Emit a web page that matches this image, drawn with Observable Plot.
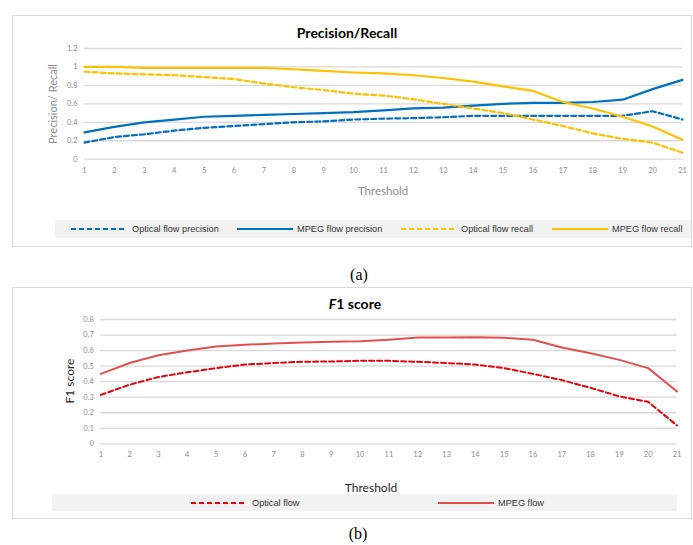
<!DOCTYPE html>
<html>
<head>
<meta charset="utf-8">
<script src="https://cdn.jsdelivr.net/npm/d3@7"></script>
<script src="https://cdn.jsdelivr.net/npm/@observablehq/plot@0.6"></script>
<style>
  html, body { margin: 0; padding: 0; background: #fff; }
  #page { position: relative; width: 693px; height: 545px; background: #fff; overflow: hidden; }
  .abs { position: absolute; }
  .panel { position: absolute; box-sizing: border-box; border: 1.5px solid #d9d9d9; }
  .ctr { position: absolute; transform: translate(-50%, -50%); white-space: nowrap; }
  .title { font-family: Lato, "Open Sans", sans-serif; font-weight: bold; font-size: 14px; color: #000; }
  .axtitle { font-family: Lato, "Open Sans", sans-serif; font-size: 11.5px; }
  .band { position: absolute; background: #f2f2f2; }
  .legtext { position: absolute; font-family: "Liberation Sans", Arial, sans-serif; font-size: 9.2px; color: #333; white-space: nowrap; transform: translateY(-50%); }
  .cap { font-family: "Liberation Serif", "DejaVu Serif", serif; font-size: 16px; color: #000; }
</style>
</head>
<body>
<div id="page"></div>
<script>
// ---------- data ----------
const thresholds = [1,2,3,4,5,6,7,8,9,10,11,12,13,14,15,16,17,18,19,20,21];

const opticalPrecision = [0.18,0.24,0.27,0.31,0.34,0.36,0.38,0.40,0.41,0.43,0.44,0.445,0.455,0.47,0.47,0.47,0.47,0.47,0.47,0.52,0.43];
const mpegPrecision    = [0.29,0.35,0.40,0.43,0.46,0.47,0.48,0.49,0.50,0.51,0.53,0.55,0.56,0.58,0.60,0.61,0.61,0.62,0.645,0.76,0.86];
const opticalRecall    = [0.95,0.93,0.92,0.91,0.89,0.87,0.82,0.78,0.75,0.71,0.69,0.65,0.60,0.55,0.50,0.43,0.36,0.28,0.22,0.18,0.07];
const mpegRecall       = [1.00,1.00,0.99,0.99,0.99,0.99,0.99,0.975,0.957,0.94,0.93,0.91,0.88,0.84,0.79,0.74,0.62,0.55,0.46,0.355,0.21];

const f1Optical = [0.315,0.38,0.43,0.46,0.487,0.51,0.52,0.528,0.53,0.534,0.534,0.528,0.52,0.51,0.487,0.45,0.41,0.36,0.305,0.27,0.118];
const f1Mpeg    = [0.45,0.52,0.57,0.60,0.626,0.637,0.645,0.652,0.656,0.66,0.67,0.684,0.684,0.686,0.682,0.67,0.62,0.583,0.54,0.487,0.337];

const prTicks  = [0, 0.2, 0.4, 0.6, 0.8, 1, 1.2];
const prLabels = ["0", "0.2", "0.4", "0.6", "0.8", "1", "1.2"];
const f1Ticks  = [0, 0.1, 0.2, 0.3, 0.4, 0.5, 0.6, 0.7, 0.8];
const f1Labels = ["0", "0.1", "0.2", "0.3", "0.4", "0.5", "0.6", "0.7", "0.8"];

const prSeries = [
  {name: "Optical flow precision", values: opticalPrecision, color: "#0070C0", dash: "5,3"},
  {name: "MPEG flow precision",    values: mpegPrecision,    color: "#0070C0", dash: null},
  {name: "Optical flow recall",    values: opticalRecall,    color: "#FFC000", dash: "5,3"},
  {name: "MPEG flow recall",       values: mpegRecall,       color: "#FFC000", dash: null}
];
const f1Series = [
  {name: "Optical flow", values: f1Optical, color: "#E8000B", dash: "5,3"},
  {name: "MPEG flow",    values: f1Mpeg,    color: "#E05050", dash: null}
];

// ---------- helpers ----------
const page = document.getElementById("page");
function add(html) { page.insertAdjacentHTML("beforeend", html); }

function chart({series, yTicks, yLabels, yDomain, height, marginTop, marginBottom, marginLeft, marginRight, strokeWidth}) {
  const fmt = new Map(yTicks.map((t, i) => [t, yLabels[i]]));
  return Plot.plot({
    width: 693,
    height,
    marginTop, marginBottom, marginLeft, marginRight,
    style: {fontFamily: "Lato, 'Open Sans', sans-serif", fontSize: "7.5px", color: "#8c8c8c", background: "transparent"},
    x: {domain: [1, 21], axis: null},
    y: {domain: yDomain, axis: null},
    marks: [
      Plot.gridY(yTicks, {stroke: "#d9d9d9", strokeOpacity: 1, strokeWidth: 1.3}),
      Plot.axisX(thresholds, {tickSize: 0, tickPadding: 8, label: null, tickFormat: d => String(d)}),
      Plot.axisY(yTicks, {tickSize: 0, tickPadding: 7, label: null, tickFormat: d => fmt.get(d)}),
      ...series.map(s => Plot.line(thresholds, {
        x: d => d,
        y: (d, i) => s.values[i],
        stroke: s.color,
        strokeWidth,
        strokeDasharray: s.dash || undefined,
        strokeLinejoin: "round"
      }))
    ]
  });
}

function legendItem(s, x, textX, y) {
  const dash = s.dash ? `stroke-dasharray="${s.dash}"` : "";
  add(`<svg class="abs" style="left:${x}px;top:${y - 3}px" width="56" height="6"><line x1="0" y1="3" x2="56" y2="3" stroke="${s.color}" stroke-width="2" ${dash}/></svg>`);
  add(`<div class="legtext" style="left:${textX}px;top:${y}px">${s.name}</div>`);
}

// ---------- panel (a) ----------
add(`<div class="panel" style="left:12px;top:15px;width:680px;height:232px"></div>`);
add(`<div class="ctr title" style="left:347px;top:32px">Precision/Recall</div>`);

const chartA = chart({
  series: prSeries, yTicks: prTicks, yLabels: prLabels, yDomain: [0, 1.2],
  height: 140, marginTop: 8, marginBottom: 21.3, marginLeft: 84, marginRight: 11, strokeWidth: 2.2
});
chartA.style.position = "absolute"; chartA.style.left = "0px"; chartA.style.top = "40px";
page.appendChild(chartA);

add(`<div class="ctr axtitle" style="left:52px;top:104px;color:#8c8c8c;font-size:11px;transform:translate(-50%,-50%) rotate(-90deg)">Precision/ Recall</div>`);
add(`<div class="ctr axtitle" style="left:383px;top:190px;color:#8c8c8c">Threshold</div>`);
add(`<div class="band" style="left:55px;top:220px;width:636px;height:18px"></div>`);
legendItem(prSeries[0], 71, 132, 229);
legendItem(prSeries[1], 237, 297, 229);
legendItem(prSeries[2], 401, 461, 229);
legendItem(prSeries[3], 552, 612, 229);
add(`<div class="ctr cap" style="left:359px;top:275px">(a)</div>`);

// ---------- panel (b) ----------
add(`<div class="panel" style="left:12px;top:287px;width:680px;height:232px"></div>`);
add(`<div class="ctr title" style="left:355px;top:303px"><i>F</i>1 score</div>`);

const chartB = chart({
  series: f1Series, yTicks: f1Ticks, yLabels: f1Labels, yDomain: [0, 0.8],
  height: 155, marginTop: 9, marginBottom: 21.7, marginLeft: 100.3, marginRight: 16.5, strokeWidth: 2
});
chartB.style.position = "absolute"; chartB.style.left = "0px"; chartB.style.top = "310px";
page.appendChild(chartB);

add(`<div class="ctr axtitle" style="left:69px;top:381px;color:#262626;font-size:12px;transform:translate(-50%,-50%) rotate(-90deg)">F1 score</div>`);
add(`<div class="ctr axtitle" style="left:371px;top:487px;color:#262626;font-size:12px">Threshold</div>`);
add(`<div class="band" style="left:52px;top:494px;width:625px;height:17px"></div>`);
legendItem(f1Series[0], 191, 252, 502.5);
legendItem(f1Series[1], 438, 498, 502.5);
add(`<div class="ctr cap" style="left:358px;top:534px">(b)</div>`);
</script>
</body>
</html>
